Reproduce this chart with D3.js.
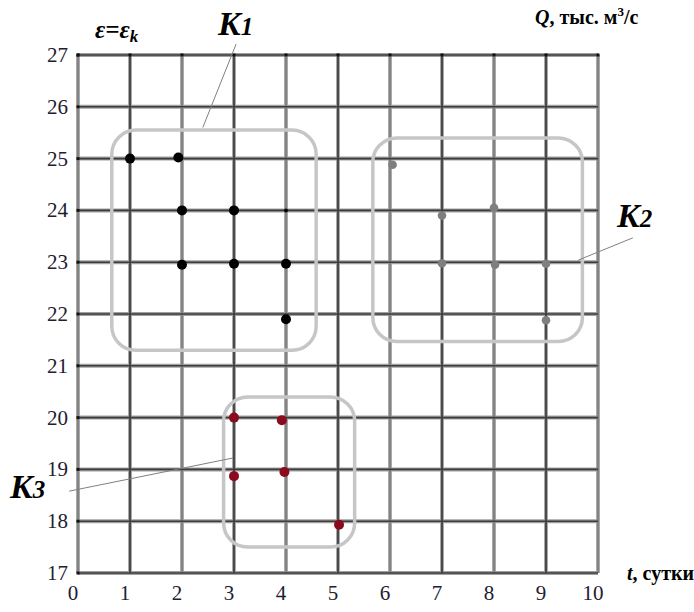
<!DOCTYPE html>
<html>
<head>
<meta charset="utf-8">
<script src="https://cdn.jsdelivr.net/npm/d3@7"></script>
<style>
  body { margin: 0; background: #fff; }
</style>
</head>
<body>
<svg id="chart" width="694" height="612"></svg>
<script>
// values
var xTicks = [0,1,2,3,4,5,6,7,8,9,10]
var yTicks = [17,18,19,20,21,22,23,24,25,26,27]

// cluster K1 (black)
var k1Points = [[1,25],[1.93,25.02],[2,24],[3,24],[2,22.95],[3,22.97],[4,22.97],[4,21.9]]
var k1Small = [[4,24]]
// cluster K2 (gray)
var k2Points = [[6.05,24.88],[7,23.9],[8,24.05],[7,22.98],[8.02,22.95],[9,22.97],[9,21.88]]
// cluster K3 (dark red)
var k3Points = [[3,20],[3.92,19.95],[3,18.87],[3.97,18.95],[5.02,17.93]]

// cluster frames [x0, y0, x1, y1] in data units
var boxes = [[0.65,25.55,4.58,21.3],[5.67,25.4,9.7,21.47],[2.8,20.4,5.32,17.5]]
// leader lines from labels to frames
var leaders = [[[3.04,27.21],[2.4,25.6]],[[10.67,23.47],[9.62,23.04]],[[-0.17,18.58],[2.98,19.22]]]

var serif = "Liberation Serif"
var svg = d3.select("#chart")

var x = d3.scaleLinear().domain([0,10]).range([78,598])
var y = d3.scaleLinear().domain([17,27]).range([573,55])

// grid: gray halo with darker core
var grid = svg.append("g")
grid.selectAll(".vh").data(xTicks).enter().append("line")
    .attr("x1", d => x(d)).attr("x2", d => x(d))
    .attr("y1", y(27)).attr("y2", y(17))
    .attr("stroke", "#aaaaaa").attr("stroke-width", 4)
grid.selectAll(".hh").data(yTicks).enter().append("line")
    .attr("x1", x(0)).attr("x2", x(10))
    .attr("y1", d => y(d)).attr("y2", d => y(d))
    .attr("stroke", "#a0a0a0").attr("stroke-width", 4)
grid.selectAll(".vc").data(xTicks).enter().append("line")
    .attr("x1", d => x(d)).attr("x2", d => x(d))
    .attr("y1", y(27)).attr("y2", y(17))
    .attr("stroke", d => d % 2 ? "#333" : "#7a7a7a").attr("stroke-width", 1.6)
grid.selectAll(".hc").data(yTicks).enter().append("line")
    .attr("x1", x(0)).attr("x2", x(10))
    .attr("y1", d => y(d)).attr("y2", d => y(d))
    .attr("stroke", "#3c3c3c").attr("stroke-width", 1.6)

// little tick dots on top edge and left edge
grid.selectAll(".td").data(xTicks).enter().append("rect")
    .attr("x", d => x(d) - 1.5).attr("y", y(27) - 1.5)
    .attr("width", 3).attr("height", 3).attr("fill", "#111")
grid.selectAll(".ld").data(yTicks).enter().append("rect")
    .attr("x", x(0) - 1.5).attr("y", d => y(d) - 1.5)
    .attr("width", 3).attr("height", 3).attr("fill", "#111")

// tick labels
svg.selectAll(".ylab").data(yTicks).enter().append("text")
    .attr("x", 68).attr("y", d => y(d)).attr("dy", "0.33em")
    .attr("text-anchor", "end").style("font-family", serif).style("font-size", "21px")
    .attr("fill", "#1e2030")
    .text(d => d)
svg.selectAll(".xlab").data(xTicks).enter().append("text")
    .attr("x", d => x(d) - 5).attr("y", 600)
    .attr("text-anchor", "middle").style("font-family", serif).style("font-size", "21px")
    .attr("fill", "#1e2030")
    .text(d => d)

// cluster frames
svg.selectAll(".box").data(boxes).enter().append("rect")
    .attr("x", d => x(d[0])).attr("y", d => y(d[1]))
    .attr("width", d => x(d[2]) - x(d[0])).attr("height", d => y(d[3]) - y(d[1]))
    .attr("rx", 24).attr("ry", 24)
    .attr("fill", "none").attr("stroke", "#c6c6c6").attr("stroke-width", 3.5)

svg.selectAll(".leader").data(leaders).enter().append("line")
    .attr("x1", d => x(d[0][0])).attr("y1", d => y(d[0][1]))
    .attr("x2", d => x(d[1][0])).attr("y2", d => y(d[1][1]))
    .attr("stroke", "#808080").attr("stroke-width", 1)

// points
function dots(data, r, color) {
  svg.append("g").selectAll("circle").data(data).enter().append("circle")
    .attr("cx", d => x(d[0])).attr("cy", d => y(d[1]))
    .attr("r", r).attr("fill", color)
}
dots(k1Points, 5, "#000")
dots(k1Small, 2, "#000")
dots(k2Points, 4.3, "#7f7f7f")
dots(k3Points, 5, "#8b0a1e")

// labels
function label(px, py) {
  return svg.append("text").attr("x", px).attr("y", py)
    .style("font-family", serif).style("font-weight", "bold").attr("fill", "#000")
}
function kLabel(px, py, sub) {
  var t = label(px, py).style("font-style", "italic")
  t.append("tspan").style("font-size", "34px").text("K")
  t.append("tspan").style("font-size", "25px").text(sub)
}
kLabel(218, 35, "1")
kLabel(617, 227, "2")
kLabel(10, 498, "3")

var eps = label(95, 38).style("font-style", "italic")
eps.append("tspan").style("font-size", "25px").text("ε=ε")
eps.append("tspan").style("font-size", "17px").attr("dy", 4).text("k")

var q = label(535, 24).style("font-size", "20px")
q.append("tspan").style("font-style", "italic").text("Q")
q.append("tspan").text(", тыс. м")
q.append("tspan").style("font-size", "13px").attr("dy", -8).text("3")
q.append("tspan").attr("dy", 8).text("/с")

var t = label(627, 580).style("font-size", "20px")
t.append("tspan").style("font-style", "italic").text("t")
t.append("tspan").text(", сутки")
</script>
</body>
</html>
